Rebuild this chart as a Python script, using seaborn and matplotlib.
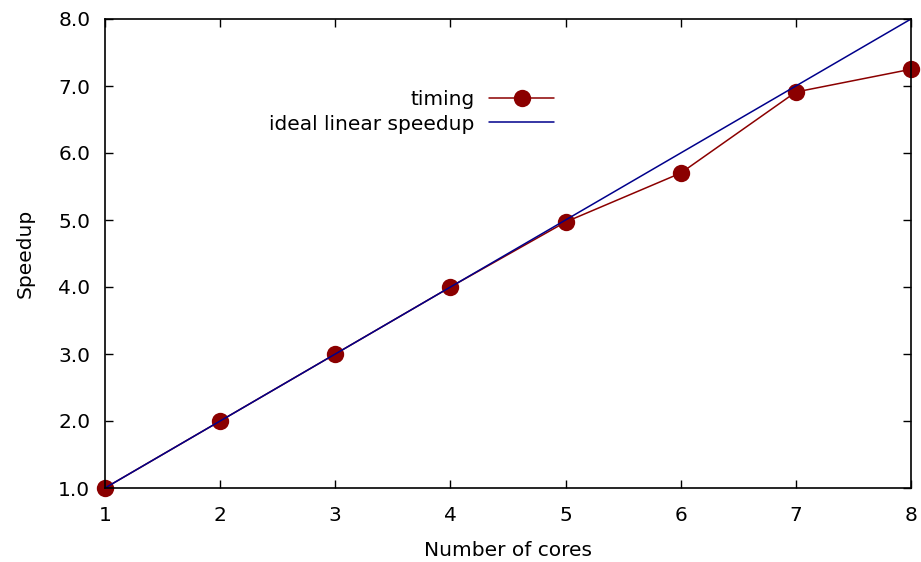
import matplotlib
matplotlib.use("Agg")
import matplotlib.pyplot as plt
import seaborn as sns
import pandas as pd

cores = [1, 2, 3, 4, 5, 6, 7, 8]
timing = [1.0, 2.0, 3.0, 4.0, 4.97, 5.70, 6.91, 7.25]
ideal_x = [1, 8]
ideal_y = [1.0, 8.0]
yticks = [1.0, 2.0, 3.0, 4.0, 5.0, 6.0, 7.0, 8.0]

sns.set_theme(style="ticks")
plt.rcParams["font.family"] = ["DejaVu Sans"]
plt.rcParams["text.color"] = "black"
plt.rcParams["axes.labelcolor"] = "black"

FS = 14.5

fig = plt.figure(figsize=(9.21, 5.62), dpi=100)
ax = fig.add_axes([105 / 921, 1 - 488 / 562, (911 - 105) / 921, (488 - 19) / 562])

df_t = pd.DataFrame({"cores": cores, "speedup": timing})
df_i = pd.DataFrame({"cores": ideal_x, "speedup": ideal_y})

sns.lineplot(data=df_t, x="cores", y="speedup", ax=ax, color="#8b0000",
             marker="o", markersize=12.5, markeredgewidth=0, linewidth=1.1,
             label="timing", zorder=3, clip_on=False)
sns.lineplot(data=df_i, x="cores", y="speedup", ax=ax, color="#00008b",
             linewidth=1.1, label="ideal linear speedup", zorder=4, clip_on=False)

ax.set_xlim(1, 8)
ax.set_ylim(1, 8)
ax.set_xticks(cores)
ax.set_yticks(yticks)
ax.set_yticklabels([f"{v:.1f}" for v in yticks])
ax.tick_params(direction="in", length=6, width=1, top=True, right=True,
               labelsize=FS, colors="black")
ax.tick_params(axis="x", pad=13)
ax.tick_params(axis="y", pad=10.5)
for s in ax.spines.values():
    s.set_visible(True)
    s.set_linewidth(1.2)
    s.set_color("black")
    s.set_zorder(5)

ax.set_xlabel("Number of cores", fontsize=FS, labelpad=11.5)
ax.set_ylabel("Speedup", fontsize=FS, labelpad=17)

leg = ax.legend(loc="center right", bbox_to_anchor=(572 / 921, 1 - 112 / 562),
                bbox_transform=fig.transFigure, frameon=False, markerfirst=False,
                fontsize=FS, handlelength=3.2, handletextpad=0.75, labelspacing=0.25)
for t in leg.get_texts():
    t.set_color("black")

fig.savefig("out.png", dpi=100)
